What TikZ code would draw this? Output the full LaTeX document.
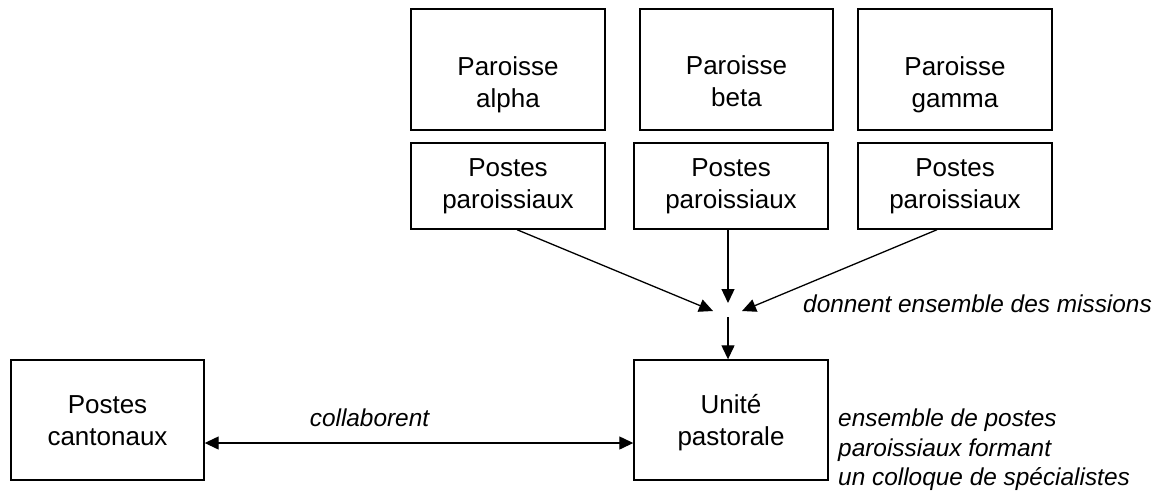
\documentclass[tikz,border=0pt]{standalone}
\usepackage{fontspec}
\setmainfont{Liberation Sans}
\usetikzlibrary{arrows.meta,calc}
\begin{document}
\begin{tikzpicture}[x=1pt,y=-1pt,
  box/.style={draw, line width=1.4pt, inner sep=0pt},
  boxtext/.style={align=center, font=\fontsize{26}{32}\selectfont, inner sep=0pt},
  note/.style={font=\fontsize{24.4}{29.5}\selectfont\itshape, inner sep=0pt, align=left},
  conn/.style={line width=1.3pt, -{Triangle[length=14pt,width=13pt]}},
  dconn/.style={line width=1.3pt, {Triangle[length=14pt,width=13pt]}-{Triangle[length=14pt,width=13pt]}},
]
\useasboundingbox (0,0) rectangle (1169,491);

% Paroisses
\node[box, minimum width=194pt, minimum height=121pt] (pa) at (508,69.5) {};
\node[box, minimum width=193pt, minimum height=121pt] (pb) at (736.5,69.5) {};
\node[box, minimum width=194pt, minimum height=121pt] (pg) at (955,69.5) {};
\node[boxtext] (tpa) at (508,84.3) {Paroisse\\alpha};
\node[boxtext] (tpb) at (736.5,81.5) {Paroisse\\beta};
\node[boxtext] (tpg) at (955,84.3) {Paroisse\\gamma};

% Postes paroissiaux
\node[box, minimum width=194pt, minimum height=86pt] (qa) at (508,186) {};
\node[box, minimum width=194pt, minimum height=86pt] (qb) at (731,186) {};
\node[box, minimum width=194pt, minimum height=86pt] (qg) at (955,186) {};
\node[boxtext] (tqa) at (508,186.5) {Postes\\paroissiaux};
\node[boxtext] (tqb) at (731,186.5) {Postes\\paroissiaux};
\node[boxtext] (tqg) at (955,186.5) {Postes\\paroissiaux};

% Bottom boxes
\node[box, minimum width=193pt, minimum height=120pt] (pc) at (107.5,420) {};
\node[box, minimum width=194pt, minimum height=120pt] (up) at (731,420) {};
\node[boxtext] (tpc) at (107.5,420.7) {Postes\\cantonaux};
\node[boxtext] (tup) at (731,423) {Unité\\pastorale};

% Junction
\coordinate (jl) at (713,311);
\coordinate (jt) at (728,303);
\coordinate (jr) at (742,311);
\coordinate (jb) at (728,317);

\draw[conn] ($(qa.south)+(9,0)$) -- (jl);
\draw[conn] (qb.south -| jt) -- (jt);
\draw[conn] ($(qg.south)+(-18,0)$) -- (jr);
\draw[conn] (jb) -- (jb |- up.north);

\draw[dconn] (pc.east |- 0,443) -- (up.west |- 0,443);

% Notes
\node[note, anchor=base west] (n1) at (803,312.7) {donnent ensemble des missions};
\node[note, anchor=base] (n2) at (369.5,426.7) {collaborent};
\node[note, anchor=west] (n3) at (838,450) {ensemble de postes\\paroissiaux formant\\un colloque de spécialistes};
\end{tikzpicture}
\end{document}
